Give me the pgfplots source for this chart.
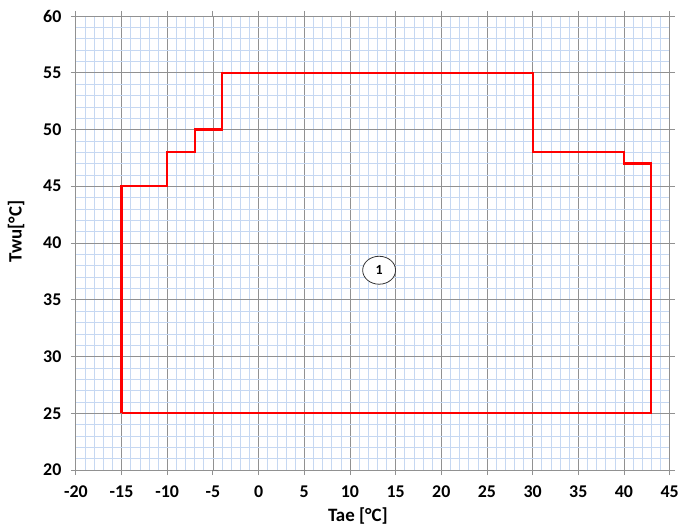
\documentclass[border=0pt]{standalone}
\usepackage{pgfplots}
\pgfplotsset{compat=1.18}
\usepackage{fontspec}
\setmainfont{Carlito}
\usetikzlibrary{shapes.geometric}
\definecolor{minorgrid}{RGB}{198,216,242}
\definecolor{majorgrid}{RGB}{145,145,145}
\begin{document}
\begin{tikzpicture}
\begin{axis}[
  scale only axis,
  width=595bp, height=455bp,
  xmin=-20, xmax=45, ymin=20, ymax=60,
  xtick distance=5, ytick distance=5,
  minor x tick num=4, minor y tick num=4,
  grid=both,
  major grid style={majorgrid, line width=0.7pt},
  minor grid style={minorgrid, line width=0.5pt},
  axis line style={majorgrid, line width=0.8pt},
  tick align=outside,
  major tick length=5bp, minor tick length=0pt,
  tick style={majorgrid, line width=0.8pt},
  /pgf/number format/assume math mode=true,
  xticklabel={\textbf{\pgfmathprintnumber{\tick}}},
  yticklabel={\textbf{\pgfmathprintnumber{\tick}}},
  tick label style={font=\fontsize{18}{20}\selectfont},
  xticklabel style={yshift=-7bp},
  yticklabel style={xshift=-6bp},
  xlabel={\textbf{Tae [°C]}}, ylabel={\textbf{Twu[°C]}},
  label style={font=\fontsize{19}{21}\selectfont},
  xlabel style={at={(ticklabel cs:0.475)}, yshift=-4bp},
  ylabel style={at={(ticklabel cs:0.525)}, yshift=12bp},
]
\addplot[red, line width=2.2pt, line join=miter, mark=none] coordinates {
  (-15,25) (-15,45) (-10,45) (-10,48) (-7,48) (-7,50) (-4,50) (-4,55)
  (30,55) (30,48) (40,48) (40,47) (43,47) (43,25) (-15,25)
};
\node[draw=black!80, ellipse, fill=white, line width=0.8pt, minimum width=33bp, minimum height=28bp, inner sep=0pt,
  font=\fontsize{14}{16}\selectfont] at (axis cs:13.2,37.6) {\textbf{1}};
\end{axis}
\path (current axis.south west) ++(-76bp,-57bp) coordinate (bbA);
\path (current axis.north east) ++(11bp,16bp) coordinate (bbB);
\useasboundingbox (bbA) rectangle (bbB);
\end{tikzpicture}
\end{document}
